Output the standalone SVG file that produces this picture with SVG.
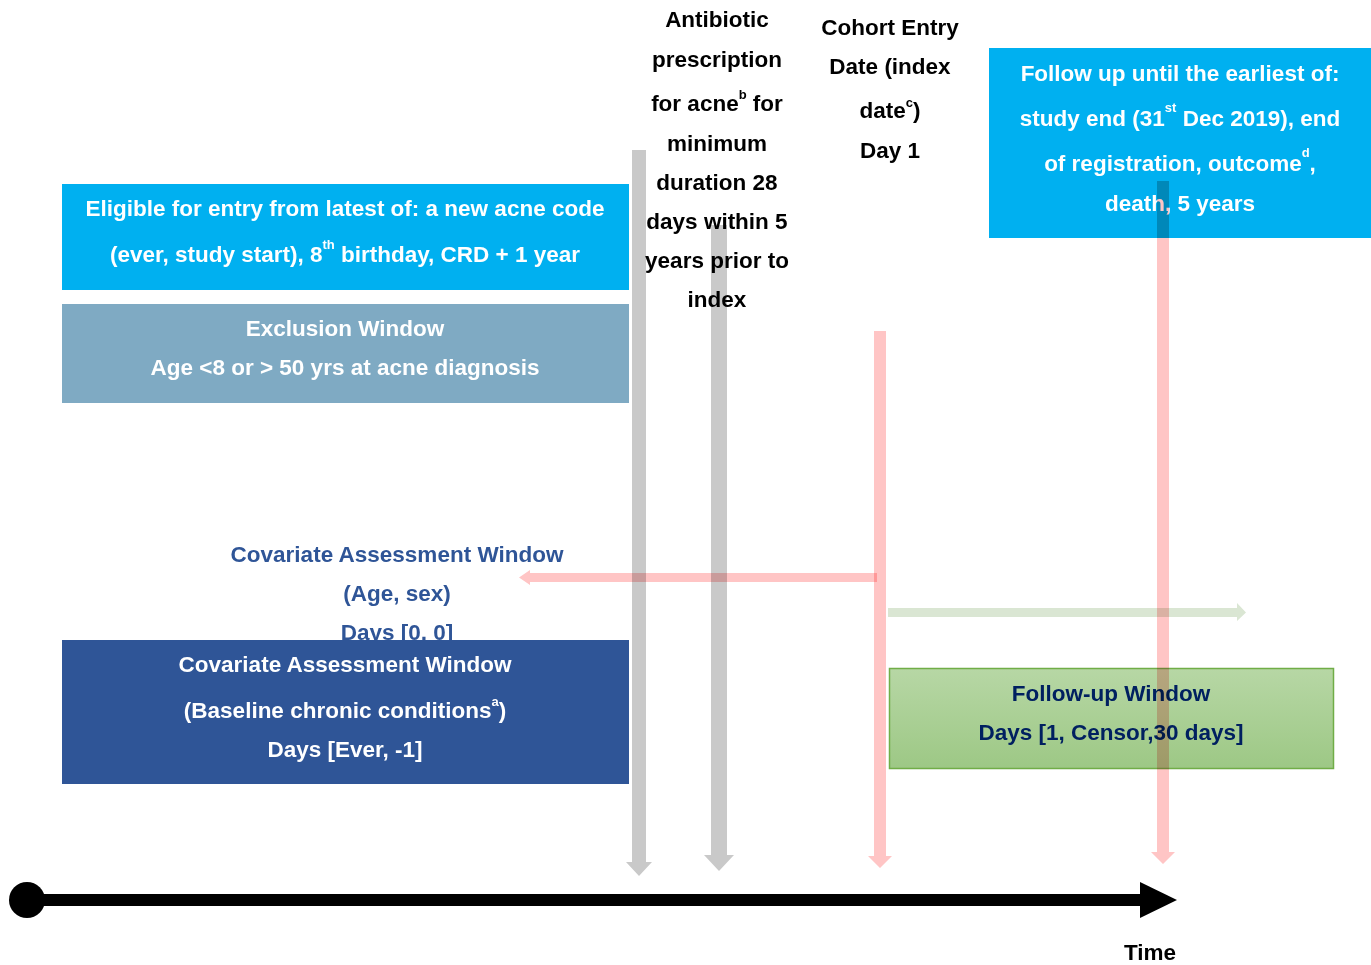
<svg xmlns="http://www.w3.org/2000/svg" width="1371" height="965" viewBox="0 0 1371 965">
<style>
text{font-family:"Liberation Sans",Arial,sans-serif;font-weight:bold;font-size:22.5px;text-anchor:middle}
.w{fill:#ffffff}
.k{fill:#000000}
.cb{fill:#2f5597}
.nv{fill:#002060}
.sup{font-size:13px}
.gray{fill:#c9c9c9;mix-blend-mode:multiply}
.pink{fill:#ffc5c5;mix-blend-mode:multiply}
</style>
<defs>
<linearGradient id="gg" x1="0" y1="0" x2="0" y2="1">
<stop offset="0" stop-color="#b7d7a5"/>
<stop offset="1" stop-color="#9dc885"/>
</linearGradient>
</defs>
<rect width="1371" height="965" fill="#ffffff"/>

<g id="label-antibiotic">
<text class="k" x="717" y="27">Antibiotic</text>
<text class="k" x="717" y="67">prescription</text>
<text class="k" x="717" y="111">for acne<tspan class="sup" dy="-12">b</tspan><tspan dy="12"> for</tspan></text>
<text class="k" x="717" y="151">minimum</text>
<text class="k" x="717" y="190">duration 28</text>
<text class="k" x="717" y="229">days within 5</text>
<text class="k" x="717" y="268">years prior to</text>
<text class="k" x="717" y="307">index</text>
</g>

<g id="label-cohort-entry">
<text class="k" x="890" y="35">Cohort Entry</text>
<text class="k" x="890" y="74">Date (index</text>
<text class="k" x="890" y="118">date<tspan class="sup" dy="-11">c</tspan><tspan dy="11">)</tspan></text>
<text class="k" x="890" y="158">Day 1</text>
</g>

<g id="box-eligible">
<rect x="62" y="184" width="567" height="106" fill="#00b0f0"/>
<text class="w" x="345" y="216">Eligible for entry from latest of: a new acne code</text>
<text class="w" x="345" y="262">(ever, study start), 8<tspan class="sup" dy="-13">th</tspan><tspan dy="13"> birthday, CRD + 1 year</tspan></text>
</g>

<g id="box-exclusion">
<rect x="62" y="304" width="567" height="99" fill="#7faac3"/>
<text class="w" x="345" y="336">Exclusion Window</text>
<text class="w" x="345" y="375">Age &lt;8 or &gt; 50 yrs at acne diagnosis</text>
</g>

<g id="label-covariate-age-sex">
<text class="cb" x="397" y="562">Covariate Assessment Window</text>
<text class="cb" x="397" y="601">(Age, sex)</text>
<text class="cb" x="397" y="640">Days [0, 0]</text>
</g>

<g id="box-covariate-baseline">
<rect x="62" y="640" width="567" height="144" fill="#2f5597"/>
<text class="w" x="345" y="672">Covariate Assessment Window</text>
<text class="w" x="345" y="718">(Baseline chronic conditions<tspan class="sup" dy="-12">a</tspan><tspan dy="12">)</tspan></text>
<text class="w" x="345" y="757">Days [Ever, -1]</text>
</g>

<g id="box-follow-up-until">
<rect x="989" y="48" width="382" height="190" fill="#00b0f0"/>
<text class="w" x="1180" y="81">Follow up until the earliest of:</text>
<text class="w" x="1180" y="126">study end (31<tspan class="sup" dy="-14">st</tspan><tspan dy="14"> Dec 2019), end</tspan></text>
<text class="w" x="1180" y="171">of registration, outcome<tspan class="sup" dy="-14">d</tspan><tspan dy="14">,</tspan></text>
<text class="w" x="1180" y="211">death, 5 years</text>
</g>

<g id="box-follow-up-window">
<rect x="889.5" y="668.5" width="444" height="100" fill="url(#gg)" stroke="#70ad47" stroke-width="1.5"/>
<text class="nv" x="1111" y="701">Follow-up Window</text>
<text class="nv" x="1111" y="740">Days [1, Censor,30 days]</text>
</g>

<g id="connectors">
<polygon class="gray" points="632,150 646,150 646,862 652,862 639,876 626,862 632,862"/>
<polygon class="gray" points="711,225 727,225 727,855 734,855 719,871 704,855 711,855"/>
<polygon class="pink" points="519,577.5 530,570 530,573 877,573 877,582 530,582 530,585"/>
<polygon fill="#dae6d3" points="888,608 1237,608 1237,603 1246,612.5 1237,621 1237,617 888,617"/>
<polygon class="pink" points="874,331 886,331 886,856 892,856 880,868 868,856 874,856"/>
<polygon class="pink" points="1157,181 1169,181 1169,852 1175,852 1163,864 1151,852 1157,852"/>
</g>

<g id="time-axis">
<circle cx="27" cy="900" r="18" fill="#000000"/>
<rect x="27" y="894" width="1116" height="12" fill="#000000"/>
<polygon points="1140,882 1177,900 1140,918" fill="#000000"/>
<text class="k" x="1150" y="960">Time</text>
</g>
</svg>
